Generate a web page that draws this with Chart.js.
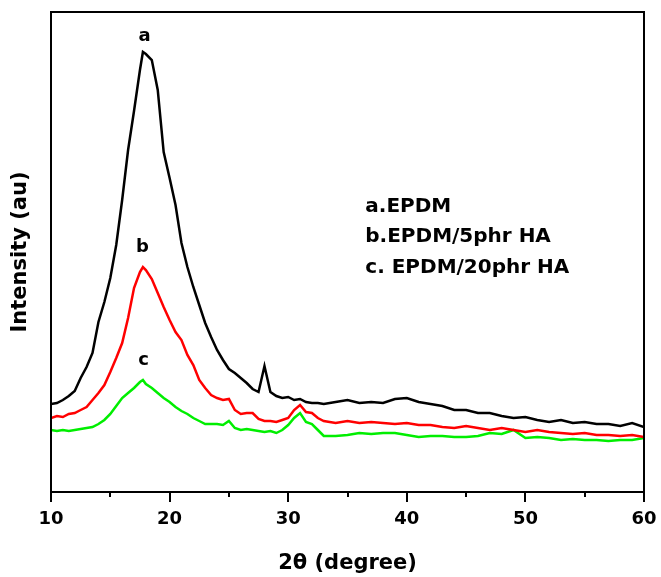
<!DOCTYPE html>
<html>
<head>
<meta charset="utf-8">
<script src="https://cdn.jsdelivr.net/npm/chart.js@4"></script>
<style>
html,body{margin:0;padding:0;background:#fff;}
#wrap{width:661px;height:577px;}
</style>
</head>
<body>
<div id="wrap"><canvas id="c" width="661" height="577"></canvas></div>
<script>
const angles = [10,10.5,11,11.5,12,12.5,13,13.5,14,14.5,15,15.5,16,16.5,17,17.5,17.75,18,18.5,19,19.5,20,20.5,21,21.5,22,22.5,23,23.5,24,24.5,25,25.5,26,26.5,27,27.5,28,28.5,29,29.5,30,30.5,31,31.5,32,32.5,33,34,35,36,37,38,39,40,41,42,43,44,45,46,47,48,49,50,51,52,53,54,55,56,57,58,59,60];
const epdm = [88,89,92,96,101,114,125,139,170,190,214,247,292,342,381,422,440,438,432,402,340,314,287,249,225,205,187,169,155,142,132,123,119,114,109,103,100,126,100,96,94,95,92,93,90,89,89,88,90,92,89,90,89,93,94,90,88,86,82,82,79,79,76,74,75,72,70,72,69,70,68,68,66,69,65];
const epdm5 = [74,76,75,78,79,82,85,92,99,107,120,134,149,174,204,220,225,222,213,199,185,172,160,152,137,127,112,104,97,94,92,93,82,78,79,79,73,71,71,70,72,74,82,87,80,79,74,71,69,71,69,70,69,68,69,67,67,65,64,66,64,62,64,62,60,62,60,59,58,59,57,57,56,57,55];
const epdm20 = [62,61,62,61,62,63,64,65,68,72,78,86,94,99,104,110,112,108,104,99,94,90,85,81,78,74,71,68,68,68,67,71,64,62,63,62,61,60,61,59,62,67,74,79,70,68,62,56,56,57,59,58,59,59,57,55,56,56,55,55,56,59,58,62,54,55,54,52,53,52,52,51,52,52,54];
const xTicks = [10,20,30,40,50,60];
const xMinor = [15,25,35,45,55];
const curveLabels = [
  {text:'a', x:17.9, y:456},
  {text:'b', x:17.7, y:245},
  {text:'c', x:17.8, y:132}
];
const legendLines = ['a.EPDM','b.EPDM/5phr HA','c. EPDM/20phr HA'];
const legendX = 36.5;
const legendY = [285,255,224];

const toPts = arr => arr.map((v,i)=>({x:angles[i], y:v}));

const boxPlugin = {
  id:'box',
  afterDraw(chart){
    const {ctx, chartArea:a, scales:{x,y}} = chart;
    ctx.save();
    ctx.strokeStyle='#000';
    ctx.lineWidth=2;
    ctx.strokeRect(a.left, a.top, a.right-a.left, a.bottom-a.top);
    xMinor.forEach(v=>{
      const px = Math.round(x.getPixelForValue(v));
      ctx.beginPath();
      ctx.moveTo(px, a.bottom);
      ctx.lineTo(px, a.bottom+5);
      ctx.stroke();
    });
    ctx.fillStyle='#000';
    ctx.textAlign='center';
    ctx.textBaseline='middle';
    ctx.font='bold 18px "DejaVu Sans"';
    curveLabels.forEach(l=>{
      ctx.fillText(l.text, x.getPixelForValue(l.x), y.getPixelForValue(l.y));
    });
    ctx.textAlign='left';
    ctx.font='bold 20px "DejaVu Sans"';
    legendLines.forEach((t,i)=>{
      ctx.fillText(t, x.getPixelForValue(legendX), y.getPixelForValue(legendY[i]));
    });
    ctx.restore();
  }
};

new Chart(document.getElementById('c'), {
  type:'line',
  data:{
    datasets:[
      {data:toPts(epdm), borderColor:'#000000', borderWidth:2.5, pointRadius:0, tension:0},
      {data:toPts(epdm5), borderColor:'#ff0000', borderWidth:2.5, pointRadius:0, tension:0},
      {data:toPts(epdm20), borderColor:'#00ee00', borderWidth:2.5, pointRadius:0, tension:0}
    ]
  },
  options:{
    responsive:false,
    animation:false,
    layout:{padding:{top:12,right:17,left:0,bottom:0}},
    plugins:{legend:{display:false}, tooltip:{enabled:false}},
    scales:{
      x:{
        type:'linear', min:10, max:60,
        afterBuildTicks: s => { s.ticks = xTicks.map(v=>({value:v})); },
        afterFit: s => { s.height = 85; s.paddingLeft = 0; s.paddingRight = 0; },
        ticks:{color:'#000', font:{family:'DejaVu Sans', size:18, weight:'bold'}, padding:7, maxRotation:0},
        grid:{display:true, drawOnChartArea:false, drawTicks:true, tickLength:10, color:'#000', lineWidth:2},
        border:{display:false},
        title:{display:true, text:'2\u03b8 (degree)', color:'#000', font:{family:'DejaVu Sans', size:21, weight:'bold'}, padding:{top:0,bottom:1}}
      },
      y:{
        type:'linear', min:0, max:480,
        afterFit: s => { s.width = 51; },
        ticks:{display:false},
        grid:{display:false},
        border:{display:false},
        title:{display:true, text:'Intensity (au)', color:'#000', font:{family:'DejaVu Sans', size:21, weight:'bold'}, padding:{top:8,bottom:0}}
      }
    }
  },
  plugins:[boxPlugin]
});
</script>
</body>
</html>
